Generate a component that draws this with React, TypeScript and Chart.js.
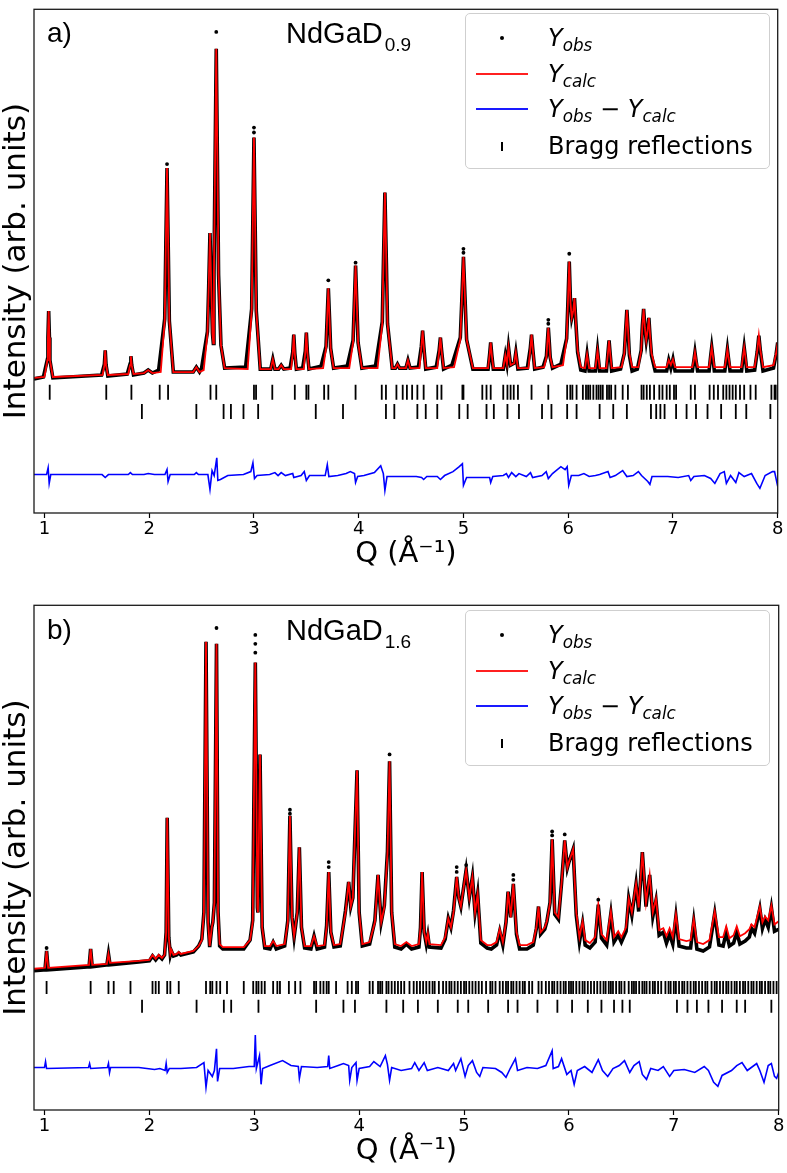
import React, { useEffect, useRef } from "react";
import { Chart, registerables } from "chart.js";

Chart.register(...registerables);

type P = [number, number];

// ---------- Panel a) NdGaD0.9 ----------
const calcA: P[] = [
  [0.90,137],
  [1.00,138],[1.028,155],[1.033,178],[1.04,205],[1.047,178],[1.052,155],[1.08,138],
  [1.555,140],[1.572,150],[1.58,165],[1.588,150],[1.605,140],
  [1.80,141],[1.817,150],[1.825,159],[1.833,150],[1.85,141],
  [1.95,142],[1.99,145],[2.03,142],
  [2.11,143],[2.148,195],[2.158,267],[2.17,350],[2.182,267],[2.192,195],[2.23,143],
  [2.42,143],[2.45,148],[2.48,143],
  [2.52,145],[2.556,182],[2.568,230],[2.58,284],[2.592,230],[2.604,182],[2.612,172],[2.618,242],[2.628,349],[2.64,471],
  [2.652,349],[2.662,242],[2.685,170],[2.72,147],
  [2.94,146],[2.978,205],[2.988,287],[3.00,381],[3.012,287],[3.022,205],[3.06,146],
  [3.16,146],[3.18,156],[3.20,146],
  [3.235,146],[3.26,150],[3.285,146],
  [3.355,146],[3.37,162],[3.38,181],[3.39,162],[3.405,146],
  [3.475,146],[3.49,163],[3.50,183],[3.51,163],[3.525,146],
  [3.66,147],[3.688,167],[3.698,196],[3.71,228],[3.722,196],[3.732,167],[3.76,147],
  [3.91,147],[3.946,173],[3.957,209],[3.97,251],[3.983,209],[3.994,173],[4.03,147],
  [4.18,147],[4.225,192],[4.236,254],[4.25,325],[4.264,254],[4.275,192],[4.32,147],
  [4.35,147],[4.37,151],[4.39,147],
  [4.45,147],[4.47,155],[4.49,147],
  [4.58,147],[4.598,168],[4.61,185],[4.622,168],[4.64,147],
  [4.75,147],[4.768,164],[4.78,178],[4.792,164],[4.81,147],
  [4.91,148],[4.97,176],[4.984,215],[5.00,260],[5.016,215],[5.03,176],[5.09,147],
  [5.235,147],[5.25,161],[5.26,173],[5.27,161],[5.285,147],
  [5.38,147],[5.40,160],[5.415,151],[5.43,168],[5.45,150],[5.485,152],[5.50,163],[5.52,147],
  [5.62,147],[5.638,166],[5.65,181],[5.662,166],[5.68,147],
  [5.77,148],[5.792,158],[5.80,172],[5.81,188],[5.82,172],[5.828,158],[5.85,148],
  [5.95,150],[5.985,176],[5.997,213],[6.01,255],[6.022,213],[6.034,198],[6.048,205],[6.06,218],[6.072,195],[6.09,165],[6.12,148],
  [6.16,147],[6.18,161],[6.20,147],
  [6.26,147],[6.28,165],[6.30,147],
  [6.365,147],[6.38,163],[6.39,175],[6.40,163],[6.415,147],
  [6.51,148],[6.536,162],[6.547,183],[6.56,206],[6.573,183],[6.584,162],[6.61,148],
  [6.67,148],[6.697,165],[6.708,190],[6.72,207],[6.732,188],[6.745,175],[6.758,185],[6.77,198],[6.782,180],[6.795,162],[6.83,148],
  [6.94,148],[6.96,155],[6.98,150],[7.00,156],[7.02,148],
  [7.185,148],[7.20,156],[7.21,163],[7.22,156],[7.235,148],
  [7.345,148],[7.36,160],[7.37,168],[7.38,160],[7.395,148],
  [7.495,148],[7.51,158],[7.52,166],[7.53,158],[7.545,148],
  [7.655,148],[7.67,160],[7.68,168],[7.69,160],[7.705,148],
  [7.78,148],[7.805,165],[7.82,180],[7.835,165],[7.86,148],
  [7.96,150],[7.985,162],[8.00,173],
];

const obsA: P[] = [
  [0.90,136],
  [0.99,138],[1.028,156],[1.033,178],[1.04,205],[1.047,178],[1.052,155],[1.08,137],
  [1.545,140],[1.572,151],[1.58,165],[1.588,150],[1.605,139],
  [1.79,141],[1.817,151],[1.825,159],[1.833,150],[1.85,140],
  [1.95,142],[1.99,145],[2.03,142],
  [2.09,145],[2.148,197],[2.158,267],[2.17,350],[2.182,267],[2.192,195],[2.23,143],
  [2.42,143],[2.45,148],[2.48,143],
  [2.50,147],[2.556,184],[2.568,230],[2.58,284],[2.592,230],[2.604,182],[2.612,172],[2.618,242],[2.628,349],[2.64,471],
  [2.652,349],[2.662,242],[2.685,170],[2.72,147],
  [2.92,148],[2.978,207],[2.988,287],[3.00,381],[3.012,287],[3.022,205],[3.06,146],
  [3.16,146],[3.18,156],[3.20,146],
  [3.235,146],[3.26,150],[3.285,146],
  [3.345,147],[3.37,163],[3.38,181],[3.39,162],[3.405,146],
  [3.465,147],[3.49,164],[3.50,183],[3.51,163],[3.525,146],
  [3.64,149],[3.688,169],[3.698,196],[3.71,228],[3.722,196],[3.732,167],[3.76,147],
  [3.89,149],[3.946,175],[3.957,209],[3.97,251],[3.983,209],[3.994,173],[4.03,147],
  [4.16,149],[4.225,194],[4.236,254],[4.25,325],[4.264,254],[4.275,192],[4.32,147],
  [4.35,147],[4.37,151],[4.39,147],
  [4.45,147],[4.47,155],[4.49,147],
  [4.57,148],[4.598,169],[4.61,185],[4.622,168],[4.64,146],
  [4.74,148],[4.768,165],[4.78,178],[4.792,164],[4.81,146],
  [4.89,150],[4.97,178],[4.984,215],[5.00,260],[5.016,215],[5.03,176],[5.09,146],
  [5.235,146],[5.25,161],[5.26,173],[5.27,161],[5.285,146],
  [5.38,146],[5.40,160],[5.415,151],[5.43,168],[5.45,150],[5.485,152],[5.50,163],[5.52,146],
  [5.61,147],[5.638,167],[5.65,181],[5.662,166],[5.68,146],
  [5.76,148],[5.792,159],[5.80,172],[5.81,188],[5.82,172],[5.828,158],[5.85,147],
  [5.93,151],[5.985,177],[5.997,213],[6.01,255],[6.022,213],[6.034,198],[6.048,205],[6.06,218],[6.072,195],[6.09,163],[6.12,145],
  [6.16,144],[6.18,161],[6.20,144],
  [6.26,144],[6.28,165],[6.30,144],
  [6.365,144],[6.38,163],[6.39,175],[6.40,162],[6.415,144],
  [6.50,146],[6.536,162],[6.547,183],[6.56,206],[6.573,183],[6.584,160],[6.61,144],
  [6.66,146],[6.697,165],[6.708,190],[6.72,207],[6.732,188],[6.745,175],[6.758,185],[6.77,198],[6.782,178],[6.795,160],[6.83,144],
  [6.94,144],[6.96,155],[6.98,147],[7.00,156],[7.02,144],
  [7.185,144],[7.20,155],[7.21,163],[7.22,155],[7.235,144],
  [7.345,144],[7.36,159],[7.37,168],[7.38,159],[7.395,144],
  [7.495,144],[7.51,157],[7.52,166],[7.53,157],[7.545,144],
  [7.655,144],[7.67,159],[7.68,168],[7.69,159],[7.705,144],
  [7.78,145],[7.805,164],[7.82,180],[7.835,164],[7.86,144],
  [7.96,147],[7.985,161],[8.00,173],
];

const obsPeakA: P[] = [
  [2.17,354],[2.64,488],[3.00,391],[3.00,386],[3.71,236],[3.97,254],[5.00,268],[5.00,264],[5.81,196],[5.81,192],[6.01,263],
];

const diffA: P[] = [
  [0.90,39],[1.02,39],[1.035,46],[1.045,30],[1.06,39],[1.55,39],[1.58,36],[1.61,39],[1.80,39],[1.82,41],[1.84,39],
  [1.95,39],[1.99,40],[2.05,39],[2.15,39],[2.17,44],[2.18,32],[2.20,39],[2.43,39],[2.45,41],[2.47,39],[2.56,39],
  [2.58,24],[2.60,43],[2.62,38],[2.645,56],[2.655,33],[2.68,34],[2.75,38],[2.90,39],[2.97,42],[2.99,51],[3.005,35],
  [3.03,38],[3.15,39],[3.20,41],[3.23,38],[3.26,41],[3.30,38],[3.37,40],[3.38,36],[3.45,38],[3.48,42],[3.50,33],
  [3.53,38],[3.68,38],[3.70,49],[3.715,37],[3.80,38],[3.88,40],[3.92,42],[3.96,40],[3.97,31],[3.99,37],[4.05,38],
  [4.15,41],[4.21,48],[4.235,40],[4.25,23],[4.27,37],[4.35,37],[4.45,37],[4.55,37],[4.60,36],[4.62,34],[4.65,37],
  [4.75,37],[4.78,34],[4.82,38],[4.90,42],[4.96,47],[4.99,50],[5.00,28],[5.03,36],[5.20,36],[5.25,36],[5.26,31],
  [5.28,37],[5.38,38],[5.41,40],[5.43,36],[5.46,41],[5.50,37],[5.53,40],[5.60,37],[5.64,41],[5.66,36],[5.75,38],
  [5.79,42],[5.81,35],[5.85,40],[5.93,47],[5.97,44],[5.99,47],[6.005,28],[6.03,38],[6.10,38],[6.15,40],[6.20,37],
  [6.26,38],[6.30,39],[6.38,42],[6.40,36],[6.45,38],[6.52,43],[6.56,37],[6.62,38],[6.67,42],[6.70,38],[6.76,32],
  [6.78,29],[6.80,37],[6.95,37],[7.05,36],[7.15,38],[7.17,33],[7.20,37],[7.30,38],[7.36,35],[7.40,30],[7.45,40],
  [7.49,42],[7.51,30],[7.55,38],[7.60,31],[7.63,41],[7.68,37],[7.75,40],[7.80,30],[7.83,25],[7.88,38],[7.95,42],
  [7.97,42],[8.00,27],
];

const braggA1: number[] = [
  1.05,1.59,1.83,2.10,2.18,2.585,2.64,3.00,3.02,3.175,3.39,3.50,3.52,3.67,3.71,3.97,4.22,4.26,4.36,4.42,4.46,4.51,
  4.56,4.62,4.75,4.79,4.99,5.00,5.18,5.22,5.26,5.38,5.42,5.45,5.48,5.52,5.65,5.81,5.99,6.02,6.04,6.08,6.14,6.17,
  6.19,6.21,6.24,6.27,6.29,6.31,6.33,6.37,6.39,6.41,6.45,6.52,6.57,6.70,6.72,6.75,6.78,6.82,6.87,6.90,6.94,6.97,
  7.01,7.03,7.17,7.21,7.35,7.39,7.43,7.48,7.51,7.54,7.57,7.60,7.64,7.68,7.74,7.79,7.94,7.97,7.98,8.00,
];
const braggA2: number[] = [
  1.93,2.45,2.71,2.78,2.90,3.04,3.59,3.85,4.26,4.34,4.56,4.64,4.75,4.96,5.04,5.22,5.29,5.42,5.53,5.75,5.84,5.99,
  6.08,6.30,6.43,6.56,6.79,6.84,6.88,6.92,7.03,7.13,7.22,7.33,7.46,7.60,7.70,7.93,
];
const braggLevelsA = [122.5, 103];

// ---------- Panel b) NdGaD1.6 ----------
const calcB: P[] = [
  [0.90,143],[1.005,144],[1.02,161],[1.035,144],[1.425,147],[1.44,163],[1.455,147],[1.595,148],[1.61,158],[1.625,149],
  [1.90,151],[2.00,152],[2.03,157],[2.06,153],[2.09,157],[2.12,154],[2.145,157],[2.16,180],[2.17,296],[2.185,175],
  [2.20,158],[2.21,162],[2.23,157],[2.26,158],[2.28,160],[2.30,158],[2.42,161],[2.47,166],[2.50,172],[2.52,200],
  [2.54,474],[2.56,190],[2.575,166],[2.595,185],[2.605,190],[2.62,210],[2.64,472],[2.655,200],[2.67,168],[2.70,165],
  [2.90,165],[2.96,172],[2.985,190],[3.01,453],[3.03,205],[3.035,200],[3.055,360],[3.075,185],[3.10,166],
  [3.15,166],[3.18,171],[3.21,166],[3.29,168],[3.32,190],[3.34,298],[3.36,195],[3.38,176],[3.41,200],[3.43,266],
  [3.45,185],[3.48,166],[3.54,166],[3.57,176],[3.60,166],[3.67,167],[3.69,185],[3.71,241],[3.73,180],[3.76,167],
  [3.82,168],[3.87,200],[3.90,231],[3.92,206],[3.94,215],[3.98,344],[4.00,200],[4.03,168],[4.10,170],[4.15,190],
  [4.18,238],[4.21,190],[4.24,205],[4.27,260],[4.29,353],[4.31,200],[4.34,168],[4.40,166],[4.45,170],[4.50,166],
  [4.57,168],[4.585,185],[4.60,241],[4.62,180],[4.64,170],[4.655,179],[4.67,168],[4.78,167],[4.82,175],[4.85,194],
  [4.875,185],[4.90,200],[4.93,236],[4.95,215],[4.97,206],[5.02,243],[5.05,215],[5.08,236],[5.105,200],[5.13,219],
  [5.16,172],[5.22,167],[5.26,167],[5.31,170],[5.34,183],[5.37,170],[5.40,190],[5.42,221],[5.445,195],[5.47,229],
  [5.50,180],[5.53,167],[5.60,167],[5.66,170],[5.69,185],[5.71,206],[5.73,180],[5.77,185],[5.79,191],[5.82,210],
  [5.84,274],[5.865,200],[5.90,195],[5.93,230],[5.96,273],[5.985,245],[6.00,251],[6.04,264],[6.07,200],[6.10,175],
  [6.13,191],[6.155,172],[6.20,169],[6.25,175],[6.28,208],[6.31,178],[6.36,172],[6.40,201],[6.43,175],[6.47,181],
  [6.50,175],[6.545,185],[6.57,214],[6.60,200],[6.64,229],[6.665,205],[6.70,261],[6.735,210],[6.77,238],[6.80,200],
  [6.83,214],[6.86,182],[6.90,184],[6.93,176],[6.96,184],[6.99,175],[7.02,198],[7.05,173],[7.12,171],[7.16,172],
  [7.19,193],[7.22,170],[7.28,168],[7.34,172],[7.39,201],[7.43,175],[7.47,175],[7.50,186],[7.53,174],[7.57,177],
  [7.60,186],[7.63,176],[7.68,179],[7.72,183],[7.74,188],[7.77,185],[7.82,206],[7.845,190],[7.87,196],[7.90,192],
  [7.93,207],[7.96,188],[8.00,191],
];

const obsB: P[] = [
  [0.90,141],[1.005,142],[1.02,161],[1.035,142],[1.425,145],[1.44,163],[1.455,145],[1.595,147],[1.61,158],[1.625,147],
  [1.90,150],[2.00,151],[2.03,156],[2.06,152],[2.09,156],[2.12,153],[2.145,157],[2.16,180],[2.17,296],[2.185,175],
  [2.20,157],[2.21,161],[2.23,156],[2.26,157],[2.28,159],[2.30,157],[2.42,160],[2.47,166],[2.50,173],[2.52,200],
  [2.54,474],[2.56,190],[2.575,165],[2.595,185],[2.605,190],[2.62,210],[2.64,472],[2.655,200],[2.67,166],[2.70,163],
  [2.90,163],[2.96,172],[2.985,192],[3.01,453],[3.03,205],[3.035,200],[3.055,360],[3.075,185],[3.10,164],
  [3.15,163],[3.18,170],[3.21,163],[3.29,166],[3.32,192],[3.34,298],[3.36,195],[3.38,175],[3.41,200],[3.43,266],
  [3.45,185],[3.48,164],[3.54,163],[3.57,176],[3.60,163],[3.67,165],[3.69,187],[3.71,241],[3.73,180],[3.76,165],
  [3.82,166],[3.87,202],[3.90,231],[3.92,206],[3.94,215],[3.98,344],[4.00,200],[4.03,166],[4.10,168],[4.15,192],
  [4.18,238],[4.21,190],[4.24,207],[4.27,262],[4.29,353],[4.31,200],[4.34,165],[4.40,163],[4.45,168],[4.50,163],
  [4.57,165],[4.585,185],[4.60,241],[4.62,180],[4.64,168],[4.655,177],[4.67,165],[4.78,164],[4.82,173],[4.85,194],
  [4.875,185],[4.90,202],[4.93,236],[4.95,215],[4.97,206],[5.02,243],[5.05,215],[5.08,236],[5.105,200],[5.13,219],
  [5.16,169],[5.22,164],[5.26,163],[5.31,167],[5.34,181],[5.37,167],[5.40,190],[5.42,221],[5.445,195],[5.47,229],
  [5.50,178],[5.53,163],[5.60,163],[5.66,167],[5.69,184],[5.71,206],[5.73,178],[5.77,183],[5.79,191],[5.82,210],
  [5.84,274],[5.865,198],[5.90,193],[5.93,230],[5.96,273],[5.985,245],[6.00,251],[6.04,264],[6.07,197],[6.10,170],
  [6.13,189],[6.155,167],[6.20,164],[6.25,170],[6.28,208],[6.31,174],[6.36,167],[6.40,199],[6.43,170],[6.47,177],
  [6.50,170],[6.545,181],[6.57,214],[6.60,197],[6.64,229],[6.665,201],[6.70,261],[6.735,206],[6.77,238],[6.80,196],
  [6.83,212],[6.86,177],[6.90,180],[6.93,169],[6.96,178],[6.99,168],[7.02,196],[7.05,166],[7.12,164],[7.16,164],
  [7.19,191],[7.22,163],[7.28,161],[7.34,165],[7.39,199],[7.43,167],[7.47,166],[7.50,180],[7.53,166],[7.57,169],
  [7.60,180],[7.63,168],[7.68,171],[7.72,175],[7.74,184],[7.77,179],[7.82,204],[7.845,184],[7.87,193],[7.90,185],
  [7.93,205],[7.96,181],[8.00,183],
];

const obsPeakB: P[] = [
  [1.02,164],[2.64,488],[3.01,481],[3.01,472],[3.01,463],[3.34,304],[3.34,300],[3.71,251],[3.71,246],[4.29,360],
  [4.93,246],[4.93,241],[5.02,248],[5.47,238],[5.47,233],[5.84,282],[5.84,278],[5.96,279],[6.28,213],
];

const diffB: P[] = [
  [0.90,43],[1.00,43],[1.01,49],[1.02,42],[1.42,43],[1.43,47],[1.44,42],[1.60,43],[1.61,47],[1.62,38],[1.63,43],
  [1.90,43],[2.05,41],[2.10,42],[2.15,40],[2.16,47],[2.17,38],[2.19,42],[2.30,42],[2.45,43],[2.52,48],[2.54,23],
  [2.56,40],[2.60,34],[2.62,40],[2.64,62],[2.65,29],[2.67,42],[2.80,42],[2.95,44],[3.00,44],[3.01,76],[3.02,42],
  [3.05,55],[3.065,26],[3.08,42],[3.15,45],[3.27,50],[3.35,45],[3.42,44],[3.43,32],[3.45,44],[3.60,43],[3.70,44],
  [3.71,55],[3.72,42],[3.80,45],[3.85,47],[3.90,45],[3.91,30],[3.93,43],[3.97,48],[3.98,30],[4.00,42],[4.10,44],
  [4.14,49],[4.20,44],[4.25,55],[4.27,46],[4.29,30],[4.31,43],[4.40,40],[4.50,42],[4.53,48],[4.57,40],[4.62,48],
  [4.65,40],[4.75,43],[4.85,40],[4.90,47],[4.92,40],[4.97,52],[5.01,34],[5.04,45],[5.08,50],[5.12,38],[5.15,34],
  [5.18,43],[5.30,42],[5.36,38],[5.40,33],[5.44,42],[5.49,52],[5.51,40],[5.60,43],[5.70,42],[5.78,45],[5.84,60],
  [5.85,42],[5.90,44],[5.93,52],[5.98,36],[6.02,40],[6.05,26],[6.08,40],[6.15,44],[6.22,38],[6.28,51],[6.32,40],
  [6.37,34],[6.42,42],[6.48,45],[6.53,50],[6.58,38],[6.62,45],[6.67,49],[6.70,36],[6.74,31],[6.78,42],[6.85,40],
  [6.90,44],[6.96,34],[7.00,40],[7.10,41],[7.20,38],[7.29,44],[7.33,40],[7.38,28],[7.42,24],[7.46,35],[7.55,40],
  [7.60,45],[7.65,48],[7.70,40],[7.79,47],[7.82,40],[7.86,28],[7.90,45],[7.93,47],[7.96,34],[7.98,32],[8.00,38],
];

const braggB1: number[] = [
  1.02,1.44,1.61,1.66,1.82,2.03,2.06,2.09,2.17,2.20,2.28,2.54,2.58,2.60,2.64,2.675,2.74,2.90,2.99,3.02,3.04,3.07,
  3.10,3.18,3.22,3.245,3.33,3.39,3.44,3.57,3.59,3.63,3.66,3.69,3.71,3.78,3.89,3.93,3.97,3.99,4.10,4.13,4.18,4.20,
  4.22,4.26,4.28,4.31,4.34,4.37,4.40,4.43,4.48,4.52,4.55,4.58,4.61,4.64,4.67,4.70,4.72,4.76,4.80,4.83,4.86,4.88,
  4.91,4.94,4.97,5.00,5.02,5.05,5.08,5.11,5.14,5.17,5.21,5.25,5.27,5.30,5.34,5.37,5.40,5.42,5.45,5.47,5.50,5.53,
  5.56,5.58,5.62,5.65,5.71,5.74,5.78,5.81,5.84,5.86,5.89,5.92,5.95,5.97,6.00,6.02,6.04,6.07,6.10,6.13,6.15,6.18,
  6.21,6.24,6.27,6.30,6.33,6.35,6.38,6.40,6.42,6.45,6.48,6.50,6.53,6.57,6.60,6.62,6.64,6.67,6.70,6.72,6.74,6.77,
  6.80,6.82,6.85,6.88,6.92,6.95,6.97,7.00,7.02,7.05,7.08,7.10,7.13,7.16,7.19,7.21,7.24,7.27,7.30,7.32,7.36,7.39,
  7.41,7.44,7.47,7.50,7.52,7.55,7.58,7.60,7.63,7.66,7.68,7.71,7.74,7.76,7.79,7.82,7.84,7.87,7.90,7.92,7.95,7.98,
];
const braggB2: number[] = [
  1.93,2.45,2.71,2.78,3.04,3.59,3.85,3.96,4.26,4.42,4.56,4.75,4.94,5.04,5.23,5.42,5.51,5.70,5.89,6.03,6.18,6.31,
  6.43,6.51,6.58,7.03,7.13,7.22,7.33,7.46,7.60,7.68,7.93,
];
const braggLevelsB = [124, 105];

const xTicks: number[] = [1, 2, 3, 4, 5, 6, 7, 8];

// ---------- rendering ----------
const toXY = (arr: P[]) => arr.map(([x, y]) => ({ x, y }));
const rowXY = (qs: number[], level: number) => qs.map((q) => ({ x: q, y: level }));

const framePlugin = {
  id: "frame",
  afterDraw(chart: any) {
    const { ctx, chartArea: a } = chart;
    ctx.save();
    ctx.strokeStyle = "#1a1a1a";
    ctx.lineWidth = 1.3;
    ctx.strokeRect(a.left, a.top, a.right - a.left, a.bottom - a.top);
    ctx.restore();
  },
};

const DV = "'DejaVu Sans', sans-serif";
const LS = "'Liberation Sans', Arial, sans-serif";

type Cfg = {
  calc: P[];
  obs: P[];
  obsPeak: P[];
  diff: P[];
  b1: number[];
  b2: number[];
  levels: number[];
  tickR: number;
  label: string;
  sub: string;
};

function Panel({ cfg, top }: { cfg: Cfg; top: number }) {
  const ref = useRef<HTMLCanvasElement>(null);
  useEffect(() => {
    const braggDs = (data: any) => ({
      data,
      showLine: false,
      pointStyle: "line",
      pointRotation: 90,
      pointRadius: cfg.tickR,
      pointBorderWidth: 1.8,
      pointBorderColor: "#000",
      pointBackgroundColor: "#000",
      borderColor: "#000",
      order: 4,
    });
    const chart = new Chart(ref.current as HTMLCanvasElement, {
      type: "line",
      data: {
        datasets: [
          {
            label: "obs peaks",
            data: toXY(cfg.obsPeak),
            showLine: false,
            pointRadius: 1.9,
            pointBorderWidth: 0,
            pointBackgroundColor: "#000",
            borderColor: "#000",
            order: 0,
          } as any,
          {
            label: "calc",
            data: toXY(cfg.calc),
            borderColor: "#ff0000",
            borderWidth: 1.8,
            pointRadius: 0,
            order: 1,
          },
          {
            label: "obs",
            data: toXY(cfg.obs),
            borderColor: "#000",
            borderWidth: 3.6,
            pointRadius: 0,
            order: 2,
          },
          {
            label: "diff",
            data: toXY(cfg.diff),
            borderColor: "#0000ff",
            borderWidth: 1.6,
            pointRadius: 0,
            order: 3,
          },
          braggDs(rowXY(cfg.b1, cfg.levels[0])),
          braggDs(rowXY(cfg.b2, cfg.levels[1])),
        ],
      },
      options: {
        animation: false,
        responsive: false,
        devicePixelRatio: 1,
        events: [],
        layout: { padding: { top: 2, right: 5, left: 0, bottom: 0 } },
        plugins: { legend: { display: false }, tooltip: { enabled: false } },
        elements: { line: { tension: 0 } },
        scales: {
          x: {
            type: "linear",
            min: 0.9,
            max: 8,
            afterFit: (s: any) => {
              s.height = 84;
            },
            afterBuildTicks: (s: any) => {
              s.ticks = xTicks.map((v) => ({ value: v }));
            },
            ticks: {
              color: "#000",
              font: { family: DV, size: 18 },
              padding: 1,
              maxRotation: 0,
              autoSkip: false,
              callback: (v: any) => String(v),
            },
            grid: {
              drawOnChartArea: false,
              drawTicks: true,
              tickLength: 5,
              tickColor: "#000",
              tickWidth: 1.2,
            },
            border: { display: false },
            title: {
              display: true,
              text: "Q (Å⁻¹)",
              color: "#000",
              font: { family: DV, size: 29, lineHeight: 1.2 },
              padding: { top: 0, bottom: 25 },
            },
          },
          y: {
            min: 0,
            max: 511,
            afterFit: (s: any) => {
              s.width = 34;
            },
            ticks: { display: false },
            grid: { display: false },
            border: { display: false },
            title: {
              display: true,
              text: "Intensity (arb. units)",
              color: "#000",
              font: { family: DV, size: 31, lineHeight: 1 },
              padding: { top: 1, bottom: 0 },
            },
          },
        },
      } as any,
      plugins: [framePlugin],
    });
    return () => chart.destroy();
  }, [cfg]);

  const legendRow = (cy: number, icon: React.ReactNode, text: React.ReactNode) => (
    <div style={{ position: "absolute", left: 0, top: cy - 16, width: 305, height: 32 }}>
      <div style={{ position: "absolute", left: 0, top: 0, width: 72, height: 32 }}>{icon}</div>
      <div
        style={{
          position: "absolute",
          left: 82,
          top: 0,
          height: 32,
          lineHeight: "32px",
          fontFamily: DV,
          fontSize: 24,
          color: "#000",
          whiteSpace: "nowrap",
        }}
      >
        {text}
      </div>
    </div>
  );
  const Y = (s: string) => (
    <span style={{ fontStyle: "italic" }}>
      Y<span style={{ fontSize: "0.7em", position: "relative", top: "0.28em" }}>{s}</span>
    </span>
  );
  const line = (color: string) => (
    <div style={{ position: "absolute", left: 10, top: 15, width: 52, height: 2, background: color }} />
  );

  return (
    <div style={{ position: "absolute", left: 0, top, width: 787, height: 597 }}>
      <canvas ref={ref} width={787} height={597} style={{ display: "block", width: 787, height: 597 }} />
      <div
        style={{
          position: "absolute",
          left: 47,
          top: 19,
          fontFamily: LS,
          fontSize: 28,
          lineHeight: 1,
          color: "#000",
        }}
      >
        {cfg.label}
      </div>
      <div
        style={{
          position: "absolute",
          left: 286,
          top: 18.5,
          fontFamily: LS,
          fontSize: 29,
          lineHeight: 1,
          color: "#000",
          whiteSpace: "nowrap",
        }}
      >
        NdGaD<span style={{ fontSize: 19, position: "relative", top: 8, marginLeft: 2 }}>{cfg.sub}</span>
      </div>
      <div
        style={{
          position: "absolute",
          left: 465,
          top: 13,
          width: 305,
          height: 156,
          boxSizing: "border-box",
          border: "1.2px solid #cfcfcf",
          borderRadius: 5,
          background: "rgba(255,255,255,0.85)",
        }}
      >
        {legendRow(
          24,
          <div
            style={{ position: "absolute", left: 34, top: 14, width: 4, height: 4, borderRadius: 2, background: "#000" }}
          />,
          Y("obs")
        )}
        {legendRow(60, line("#ff2020"), Y("calc"))}
        {legendRow(
          95,
          line("#1a1aff"),
          <span>
            {Y("obs")} − {Y("calc")}
          </span>
        )}
        {legendRow(
          132,
          <div style={{ position: "absolute", left: 35, top: 12, width: 2, height: 9, background: "#000" }} />,
          "Bragg reflections"
        )}
      </div>
    </div>
  );
}

const cfgA: Cfg = {
  calc: calcA,
  obs: obsA,
  obsPeak: obsPeakA,
  diff: diffA,
  b1: braggA1,
  b2: braggA2,
  levels: braggLevelsA,
  tickR: 7.5,
  label: "a)",
  sub: "0.9",
};
const cfgB: Cfg = {
  calc: calcB,
  obs: obsB,
  obsPeak: obsPeakB,
  diff: diffB,
  b1: braggB1,
  b2: braggB2,
  levels: braggLevelsB,
  tickR: 6.5,
  label: "b)",
  sub: "1.6",
};

export default function App() {
  return (
    <div
      style={{
        position: "absolute",
        left: 0,
        top: 0,
        width: 787,
        height: 1173,
        overflow: "hidden",
        background: "#fff",
      }}
    >
      <Panel cfg={cfgA} top={0} />
      <Panel cfg={cfgB} top={597} />
    </div>
  );
}
